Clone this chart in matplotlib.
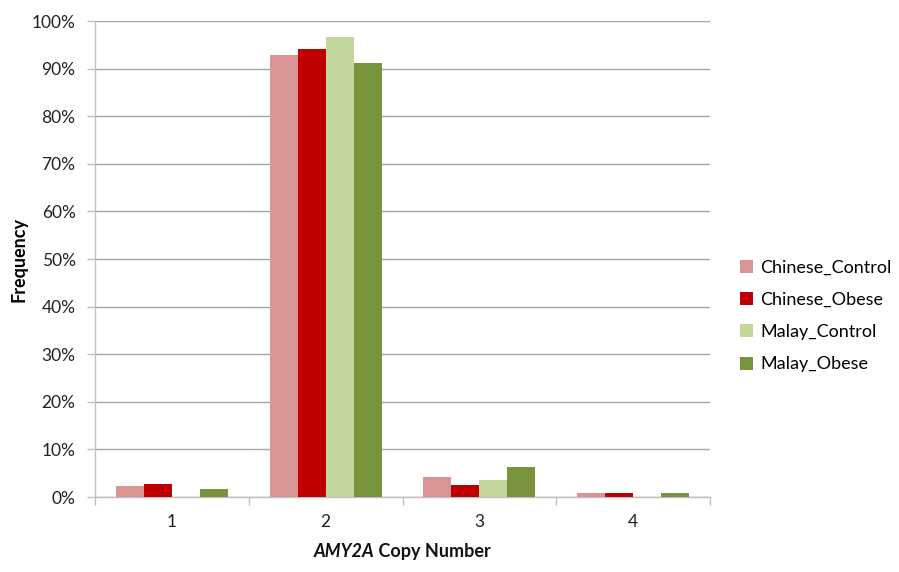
import matplotlib
matplotlib.use("Agg")
import matplotlib.pyplot as plt
import numpy as np
from matplotlib.ticker import PercentFormatter
from matplotlib.offsetbox import TextArea, HPacker, AnchoredOffsetbox

categories = ["1", "2", "3", "4"]
series_names = ["Chinese_Control", "Chinese_Obese", "Malay_Control", "Malay_Obese"]
chinese_control = [2.4, 92.8, 4.1, 0.8]
chinese_obese = [2.7, 94.2, 2.6, 0.8]
malay_control = [0.0, 96.6, 3.5, 0.0]
malay_obese = [1.7, 91.2, 6.2, 0.9]
colors = ["#D99594", "#C00000", "#C3D69B", "#77933C"]
yticks = [0, 10, 20, 30, 40, 50, 60, 70, 80, 90, 100]

plt.rcParams['font.family'] = ['Lato', 'DejaVu Sans']

fig = plt.figure(figsize=(8.99, 5.72), dpi=100)
ax = fig.add_axes([95/899, 1-497/572, (710-95)/899, (497-21)/572])

values = [chinese_control, chinese_obese, malay_control, malay_obese]
n = len(values)
bw = 1/(n + 1.5)
x = np.arange(len(categories))
for i, (vals, name, c) in enumerate(zip(values, series_names, colors)):
    ax.bar(x + (i - (n-1)/2)*bw, vals, width=bw, color=c, label=name, zorder=3)

ax.set_xlim(-0.5, len(categories) - 0.5)
ax.set_ylim(0, 100)
ax.set_yticks(yticks)
ax.yaxis.set_major_formatter(PercentFormatter(decimals=0))
ax.set_xticks(x)
ax.set_xticklabels(categories)
ax.set_xticks(np.arange(len(categories)+1) - 0.5, minor=True)
ax.tick_params(axis='x', which='major', length=0, pad=12, labelsize=12.5, colors='#222222')
ax.tick_params(axis='x', which='minor', length=6, color='#BFBFBF', width=1)
ax.tick_params(axis='y', which='major', length=6, color='#BFBFBF', width=1, pad=8, labelsize=12.5, labelcolor='#222222')
ax.yaxis.grid(True, color='#A6A6A6', linewidth=1, zorder=0)
ax.set_axisbelow(True)
for s in ['top', 'right']:
    ax.spines[s].set_visible(False)
for s in ['left', 'bottom']:
    ax.spines[s].set_color('#BFBFBF')
    ax.spines[s].set_linewidth(1)

ax.set_ylabel("Frequency", fontsize=13, fontweight='bold')
ax.yaxis.set_label_coords(-0.11, 0.5)

# x label with italic gene name
ta1 = TextArea("AMY2A", textprops=dict(fontsize=13, fontweight='bold', fontstyle='italic', color='#111111'))
ta2 = TextArea(" Copy Number", textprops=dict(fontsize=13, fontweight='bold', color='#111111'))
pack = HPacker(children=[ta1, ta2], align='baseline', pad=0, sep=0)
ab = AnchoredOffsetbox(loc='center', child=pack, frameon=False,
                       bbox_to_anchor=(0.5, -0.115), bbox_transform=ax.transAxes, pad=0, borderpad=0)
ax.add_artist(ab)

leg = ax.legend(loc='center left', bbox_to_anchor=(1.022, 0.38), frameon=False,
                fontsize=13, handlelength=0.72, handleheight=0.72, handletextpad=0.42,
                labelspacing=0.9)

fig.savefig("out.png", dpi=100)
